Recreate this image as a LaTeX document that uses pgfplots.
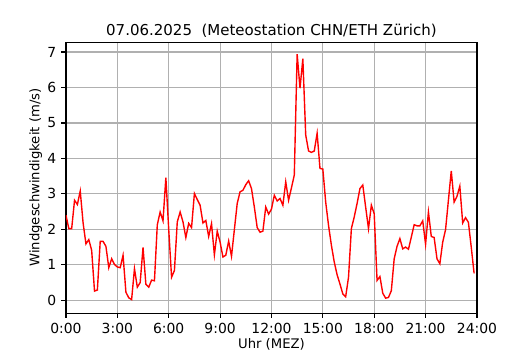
\documentclass[border=0pt]{standalone}
\usepackage{pgfplots}
\pgfplotsset{compat=1.18}
\usepackage{pgfplotstable}
\usepackage{fontspec}
\setmainfont{DejaVu Sans}
\pgfplotstableread{
i v
0 2.40
1 2.02
2 2.02
3 2.82
4 2.70
5 3.08
6 2.18
7 1.59
8 1.71
9 1.41
10 0.26
11 0.29
12 1.66
13 1.66
14 1.52
15 0.92
16 1.17
17 1.01
18 0.94
19 0.92
20 1.27
21 0.23
22 0.07
23 0.02
24 0.89
25 0.37
26 0.50
27 1.49
28 0.45
29 0.37
30 0.57
31 0.55
32 2.13
33 2.49
34 2.24
35 3.46
36 2.00
37 0.65
38 0.84
39 2.21
40 2.49
41 2.21
42 1.77
43 2.17
44 2.05
45 3.01
46 2.84
47 2.68
48 2.18
49 2.25
50 1.80
51 2.16
52 1.28
53 1.95
54 1.64
55 1.22
56 1.27
57 1.67
58 1.24
59 1.99
60 2.73
61 3.06
62 3.10
63 3.26
64 3.37
65 3.15
66 2.63
67 2.05
68 1.92
69 1.95
70 2.63
71 2.43
72 2.57
73 2.96
74 2.80
75 2.87
76 2.68
77 3.34
78 2.82
79 3.17
80 3.53
81 6.94
82 5.98
83 6.81
84 4.66
85 4.21
86 4.17
87 4.21
88 4.71
89 3.72
90 3.70
91 2.77
92 2.11
93 1.55
94 1.08
95 0.72
96 0.46
97 0.18
98 0.10
99 0.65
100 2.02
101 2.35
102 2.73
103 3.15
104 3.25
105 2.63
106 2.02
107 2.68
108 2.44
109 0.56
110 0.67
111 0.20
112 0.06
113 0.08
114 0.27
115 1.17
116 1.52
117 1.74
118 1.45
119 1.50
120 1.44
121 1.78
122 2.13
123 2.10
124 2.10
125 2.24
126 1.58
127 2.49
128 1.80
129 1.77
130 1.17
131 1.03
132 1.64
133 1.99
134 2.82
135 3.65
136 2.77
137 2.93
138 3.22
139 2.18
140 2.33
141 2.20
142 1.50
143 0.76
}\wind
\begin{document}
\begin{tikzpicture}
\useasboundingbox (-47.5pt,-26.6pt) rectangle (334.1pt,225.4pt);
\begin{axis}[
  scale only axis,
  width=295.9pt, height=195.1pt,
  xmin=0, xmax=144,
  ymin=-0.36, ymax=7.28,
  xtick={0,18,...,144},
  xticklabels={0:00,3:00,6:00,9:00,12:00,15:00,18:00,21:00,24:00},
  ytick={0,1,...,7},
  tick align=outside,
  tick pos=left,
  major tick length=3.5pt,
  every tick/.style={black, line width=0.8pt},
  axis line style={black, line width=0.8pt},
  grid=major,
  major grid style={color=black!31, line width=0.8pt},
  ticklabel style={font=\fontsize{10}{12}\selectfont},
  /pgf/number format/assume math mode=true,
  xlabel={Uhr (MEZ)},
  ylabel={Windgeschwindigkeit (m/s)},
  label style={font=\fontsize{9.5}{11}\selectfont},
  xlabel style={yshift=3pt},
  ylabel style={yshift=-3pt},
  title={07.06.2025\ \ (Meteostation CHN/ETH Zürich)},
  title style={font=\fontsize{10.8}{13}\selectfont, yshift=-6pt},
]
\addplot[red, line width=1pt, no markers] table[x=i, y=v] {\wind};
\end{axis}
\end{tikzpicture}
\end{document}
